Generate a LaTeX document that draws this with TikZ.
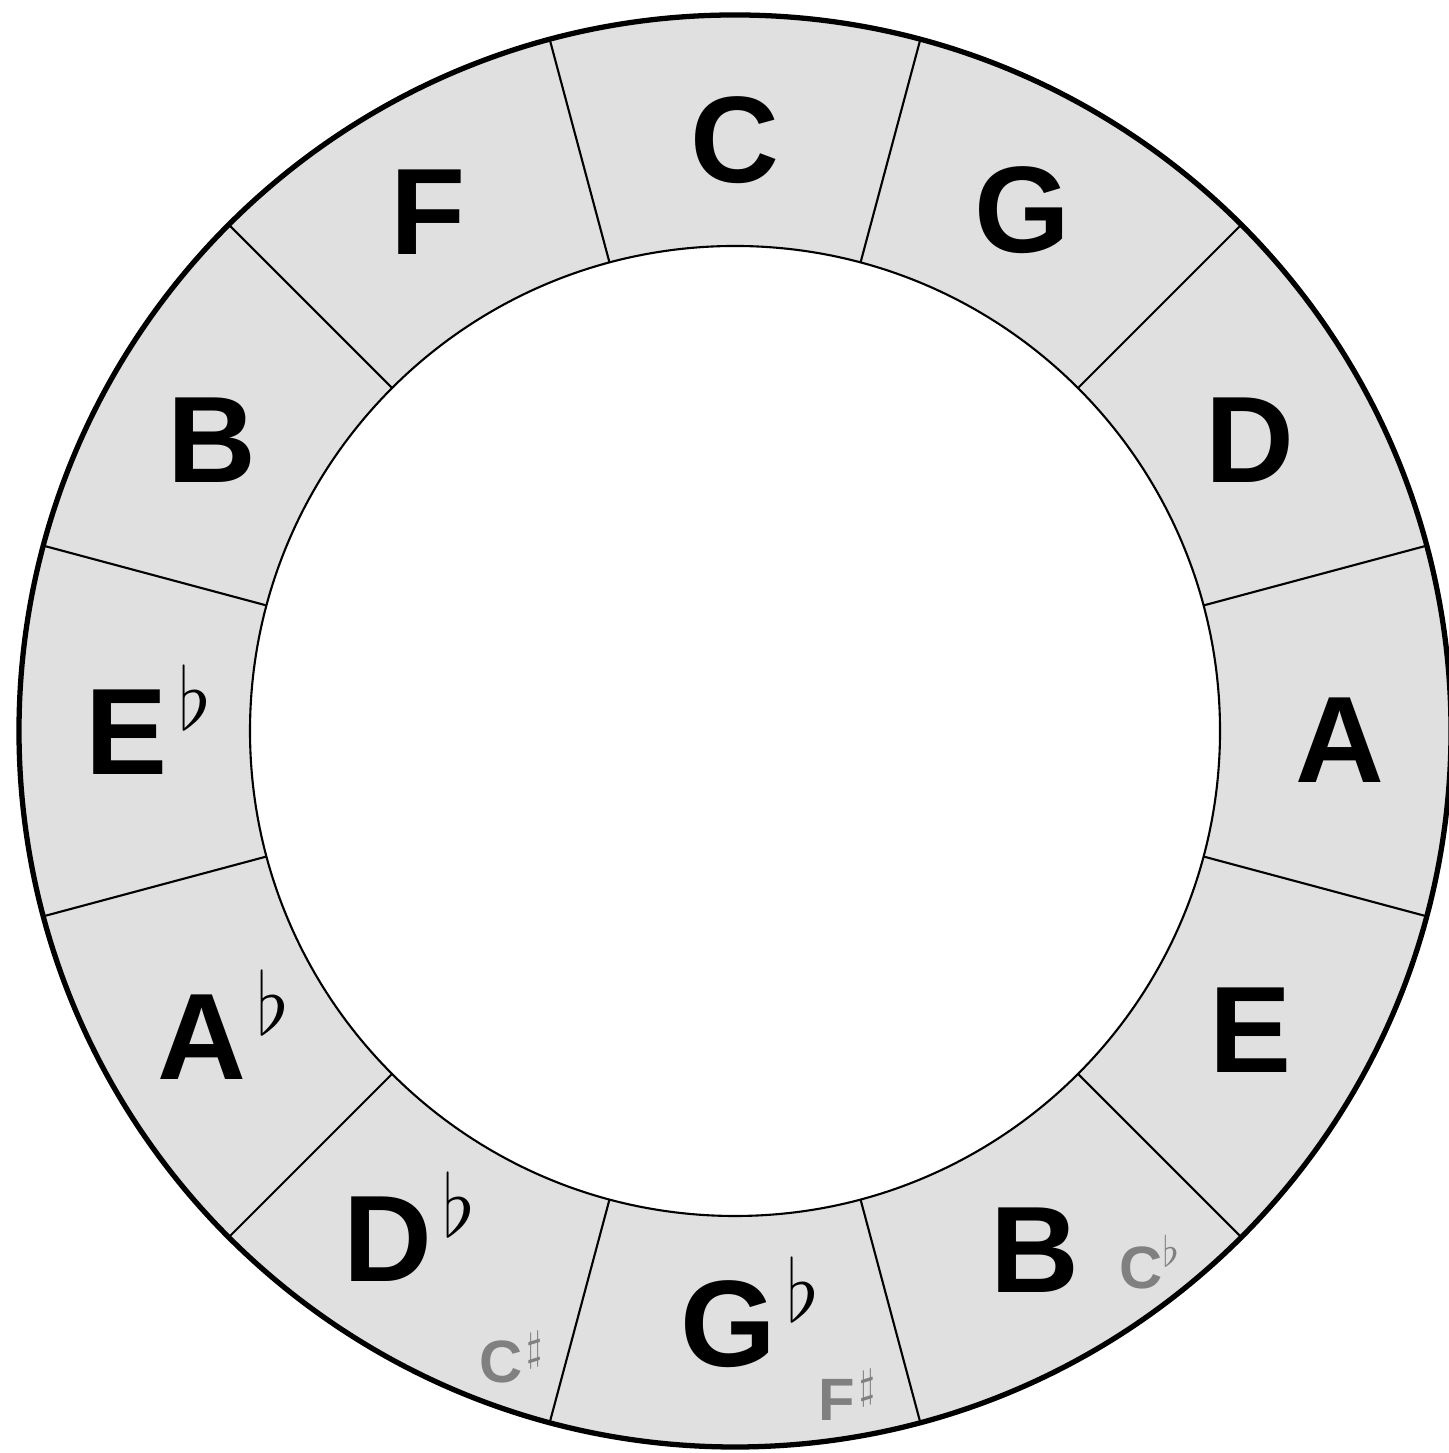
\documentclass[tikz,border=0pt]{standalone}
\usepackage{fix-cm}
\usepackage{fontspec}
\setmainfont{Liberation Sans}
\usepackage{tikz}

\definecolor{ringfill}{RGB}{224,224,224}
\newcommand{\flatmark}{\smash{\rlap{\kern3pt$^\flat$}}}
\newcommand{\sharpmark}{\smash{\rlap{\kern1pt$^\sharp$}}}
\tikzset{
  keyname/.style={font=\fontsize{35}{42}\selectfont\bfseries, inner sep=0pt},
  minorkey/.style={font=\fontsize{17}{20}\selectfont\bfseries, text=black!50, inner sep=0pt},
  divider/.style={line width=0.6pt}
}

\begin{document}
\begin{tikzpicture}
\useasboundingbox (0,0) rectangle (14.48,14.53);
\begin{scope}[shift={(7.35,7.22)}]
% ring
\fill[ringfill, even odd rule] (0,0) circle (7.16) (0,0) circle (4.85);
\foreach \a in {15,45,...,345}
  \draw[divider] (\a:4.85) -- (\a:7.16);
\draw[line width=0.6pt] (0,0) circle (4.85);
\draw[line width=1.5pt] (0,0) circle (7.16);
% keys
\node[keyname] (keyC) at (0,5.91) {C};
\node[keyname] (keyG) at (2.87,5.21) {G};
\node[keyname] (keyD) at (5.15,2.91) {D};
\node[keyname] (keyA) at (6.05,-0.09) {A};
\node[keyname] (keyE) at (5.15,-2.99) {E};
\node[keyname] (keyB) at (3.00,-5.19) {B};
\node[keyname] (keyGb) at (-0.07,-5.93) {G\flatmark};
\node[keyname] (keyDb) at (-3.47,-5.08) {D\flatmark};
\node[keyname] (keyAb) at (-5.33,-3.06) {A\flatmark};
\node[keyname] (keyEb) at (-6.08,-0.01) {E\flatmark};
\node[keyname] (keyBb) at (-5.23,2.91) {B};
\node[keyname] (keyF) at (-3.07,5.19) {F};
% enharmonic names
\node[minorkey] (keyCb) at (4.06,-5.37) {C\smash{\rlap{$^\flat$}}};
\node[minorkey] (keyFs) at (1.02,-6.69) {F\sharpmark};
\node[minorkey] (keyCs) at (-2.34,-6.31) {C\sharpmark};
\end{scope}
\end{tikzpicture}
\end{document}
